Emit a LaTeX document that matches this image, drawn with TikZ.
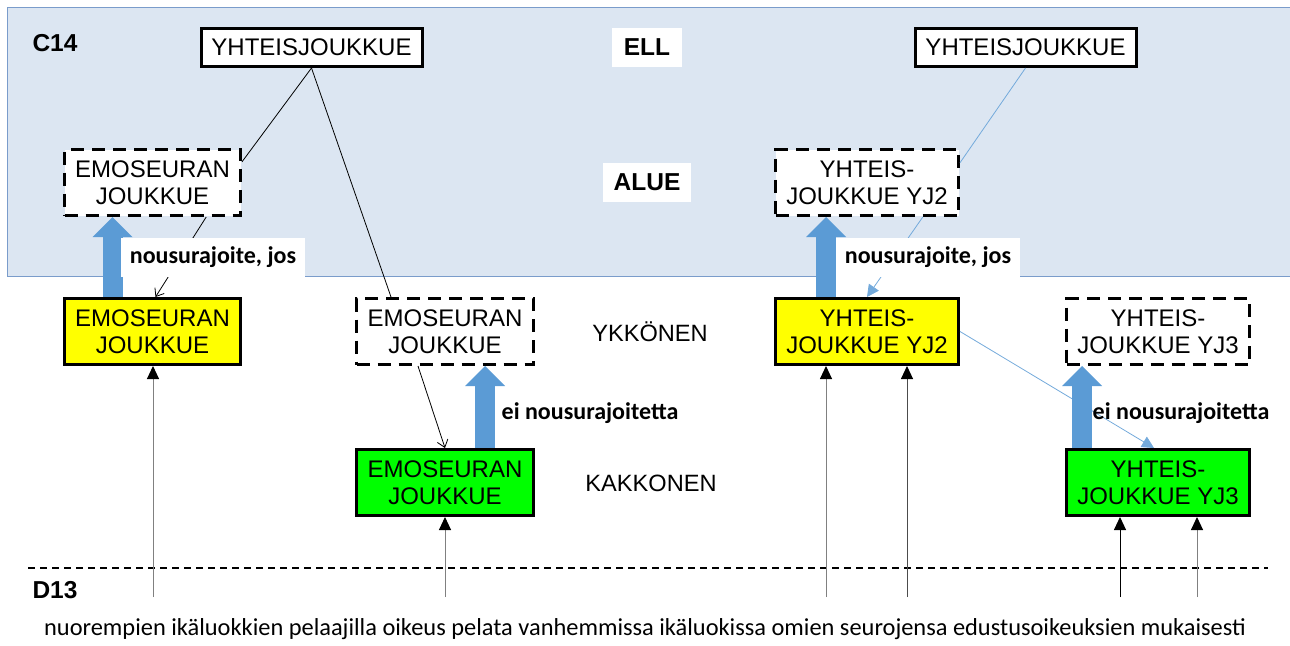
\documentclass[tikz,border=0pt]{standalone}
\usepackage{fontspec}
\setmainfont{Liberation Sans}
\newfontfamily\calibfont{Carlito}
\usepackage{tikz}
\usetikzlibrary{calc,positioning,arrows.meta}
\definecolor{areablue}{HTML}{DCE6F2}
\definecolor{areaedge}{HTML}{7A9CCB}
\definecolor{liftblue}{HTML}{5B9BD5}
\definecolor{ykkyellow}{HTML}{FFFF00}
\definecolor{kakgreen}{HTML}{00FF00}
\tikzstyle{team}     = [draw, line width=3pt, align=center, inner sep=0pt,
                        minimum width=176pt, minimum height=66pt,
                        font=\fontsize{24}{27}\selectfont]
\tikzstyle{ghost}    = [team, fill=white, dash pattern=on 13pt off 8pt]
\tikzstyle{ykk}      = [team, fill=ykkyellow]
\tikzstyle{kak}      = [team, fill=kakgreen]
\tikzstyle{joint}    = [draw, line width=3pt, fill=white, inner sep=0pt,
                        minimum width=221pt, minimum height=38pt,
                        font=\fontsize{24}{27}\selectfont]
\tikzstyle{tag}      = [font=\bfseries\fontsize{24.5}{28}\selectfont]
\tikzstyle{level}    = [font=\fontsize{23.6}{27}\selectfont]
\tikzstyle{rule}     = [font=\calibfont\bfseries\fontsize{24}{28}\selectfont]
\tikzstyle{lift}     = [draw=liftblue, line width=20pt,
                        -{Triangle[width=40pt, length=20pt, line width=0pt]}]
\tikzstyle{feed}     = [draw=gray, line width=1pt,
                        -{Triangle[width=12pt, length=13pt, color=black]}]
\tikzstyle{link}     = [draw=black, line width=0.8pt]
\tikzstyle{bluelink} = [draw=liftblue!85, line width=0.8pt]

\begin{document}
\begin{tikzpicture}[x=1pt, y=-1pt, node distance=151pt]
  \useasboundingbox (0,0) rectangle (1290,645);
  % ELL / ALUE area
  \fill[areablue] (7,7) rectangle (1295,276);
  \draw[areaedge, line width=1pt] (1295,7) -- (7,7) -- (7,276) -- (1295,276);

  \node[tag] (c14) at (55,43) {C14};
  \node[tag] (d13) at (55,590) {D13};

  \node[joint] (yhtL) at (311.5,47.5) {YHTEISJOUKKUE};
  \node[joint] (yhtR) at (1025.5,47.5) {YHTEISJOUKKUE};
  \node[tag, fill=white, inner xsep=12pt, minimum height=39pt] (ell) at (647,47) {ELL};
  \node[tag, fill=white, inner xsep=11pt, minimum height=39pt] (alue) at (647,182) {ALUE};

  % ALUE teams
  \node[ghost] (emoA) at (152.5,182.5) {EMOSEURAN\\JOUKKUE};
  \node[ghost, minimum width=183pt] (yj2A) at (867,182.5) {YHTEIS-\\JOUKKUE YJ2};

  % YKKONEN teams
  \node[ykk] (emoY) at (152.5,331.5) {EMOSEURAN\\JOUKKUE};
  \node[ghost, minimum width=177pt] (emoY2) at (445,331.5) {EMOSEURAN\\JOUKKUE};
  \node[ykk, minimum width=183pt] (yj2Y) at (867,331.5) {YHTEIS-\\JOUKKUE YJ2};
  \node[ghost, minimum width=183pt] (yj3Y) at (1158,331.5) {YHTEIS-\\JOUKKUE YJ3};
  \node[level] (ykk) at (650,332) {YKKÖNEN};

  % KAKKONEN teams
  \node[kak, minimum width=177pt, below of=emoY2] (emoK) {EMOSEURAN\\JOUKKUE};
  \node[kak, minimum width=183pt, below of=yj3Y] (yj3K) {YHTEIS-\\JOUKKUE YJ3};
  \node[level] (kak) at (651,483) {KAKKONEN};

  % joint team links
  \draw[link] (yhtL.south) -- (emoA.13);
  \draw[link] (yhtL.south) -- ($(emoY2.north west)!0.2!(emoY2.north east)$);
  \draw[link, -{Straight Barb[length=7pt, width=11pt]}]
    ($(emoA.south)!0.6!(emoA.south east)$) -- ([xshift=3pt]emoY.north);
  \draw[link, -{Straight Barb[length=7pt, width=11pt]}]
    ($(emoY2.south west)!0.35!(emoY2.south east)$) -- (emoK.north);
  \draw[bluelink] (yhtR.south) -- (yj2A.12);
  \draw[bluelink, -{Triangle[width=12pt, length=12pt]}]
    ($(yj2A.south)!0.6!(yj2A.south east)$) -- (yj2Y.north);
  \draw[bluelink, -{Triangle[width=12pt, length=12pt]}]
    (yj2Y.east) -- ([xshift=-4pt]yj3K.north);

  % rising arrows
  \draw[lift] ([xshift=-40pt]emoY.north) -- ([xshift=-40pt]emoA.south);
  \draw[lift] ([xshift=40pt]emoK.north) -- ([xshift=40pt]emoY2.south);
  \draw[lift] ([xshift=-41pt]yj2Y.north) -- ([xshift=-41pt]yj2A.south);
  \draw[lift] ([xshift=-76pt]yj3K.north) -- ([xshift=-76pt]yj3Y.south);

  \node[rule, fill=white, inner xsep=9pt, minimum height=39pt] (nousL) at (213,257) {nousurajoite, jos};
  \node[rule, fill=white, inner xsep=9pt, minimum height=39pt] (nousR) at (928,257) {nousurajoite, jos};
  \node[rule] (eiL) at (590,413) {ei nousurajoitetta};
  \node[rule] (eiR) at (1181,413) {ei nousurajoitetta};

  % D13 boundary
  \coordinate (lineW) at (28,568);
  \coordinate (lineE) at (1268,568);
  \draw[line width=1.2pt, dash pattern=on 7pt off 5pt] (lineW) -- (lineE);

  % younger players
  \coordinate (b1) at (153,597);
  \coordinate (b2) at (445,597);
  \coordinate (b3) at (826,597);
  \coordinate (b4) at (907,597);
  \coordinate (b5) at (1120,597);
  \coordinate (b6) at (1197,597);
  \draw[feed] (b1) -- (b1 |- emoY.south);
  \draw[feed] (b2) -- (b2 |- emoK.south);
  \draw[feed] (b3) -- (b3 |- yj2Y.south);
  \draw[feed, draw=gray!60!black] (b4) -- (b4 |- yj2Y.south);
  \draw[feed, draw=black] (b5) -- (b5 |- yj3K.south);
  \draw[feed] (b6) -- (b6 |- yj3K.south);

  \node[font=\calibfont\fontsize{24.4}{28}\selectfont] (note) at (645,629)
    {nuorempien ikäluokkien pelaajilla oikeus pelata vanhemmissa ikäluokissa omien seurojensa edustusoikeuksien mukaisesti};
\end{tikzpicture}
\end{document}
